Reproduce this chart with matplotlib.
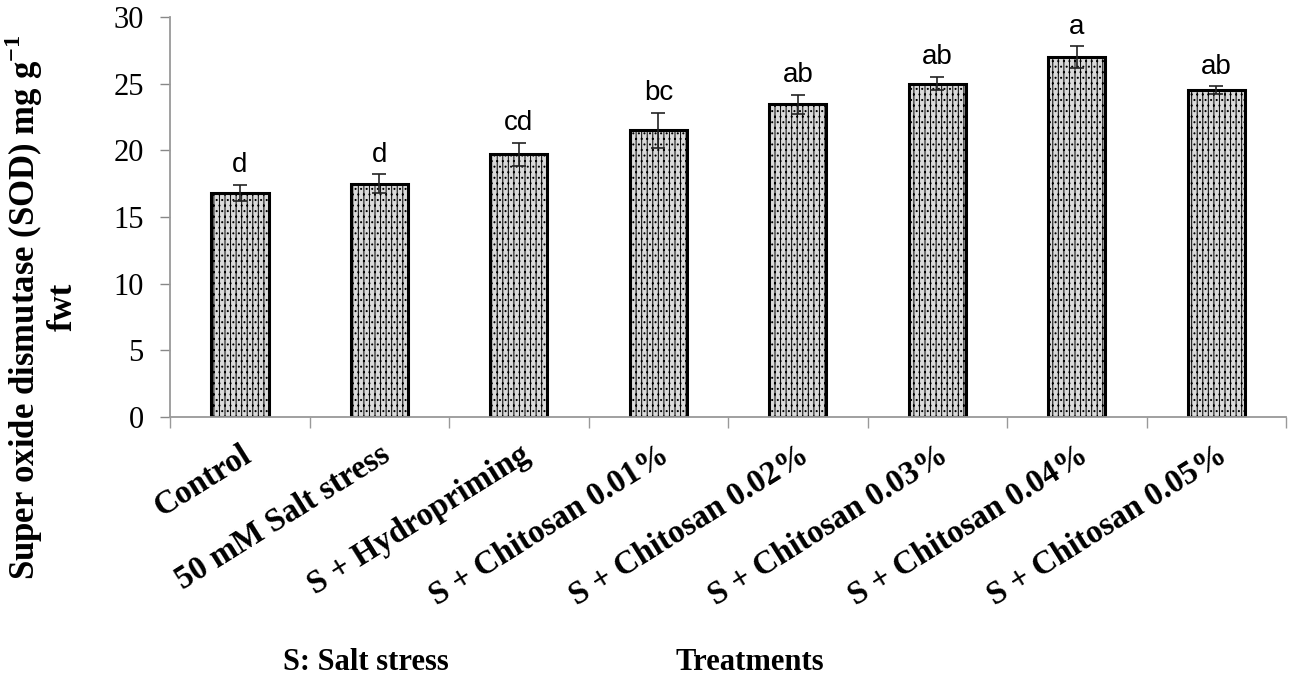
import numpy as np
import matplotlib
matplotlib.use("Agg")
import matplotlib.pyplot as plt

# ==========================================
# Data
# ==========================================
treatments = ["Control", "50 mM Salt stress", "S + Hydropriming",
              "S + Chitosan 0.01%", "S + Chitosan 0.02%", "S + Chitosan 0.03%",
              "S + Chitosan 0.04%", "S + Chitosan 0.05%"]
sod_mean = [16.8, 17.5, 19.7, 21.5, 23.45, 25.0, 27.0, 24.5]
sod_err = [0.6, 0.7, 0.85, 1.3, 0.7, 0.5, 0.8, 0.3]
letters = ["d", "d", "cd", "bc", "ab", "ab", "a", "ab"]

plt.rcParams["font.family"] = ["Liberation Serif", "DejaVu Serif"]
plt.rcParams["mathtext.fontset"] = "custom"
plt.rcParams["mathtext.rm"] = "Liberation Serif"
plt.rcParams["mathtext.bf"] = "Liberation Serif:bold"
plt.rcParams["hatch.color"] = "#6a6a6a"
plt.rcParams["hatch.linewidth"] = 0.7

fig = plt.figure(figsize=(12.99, 6.86), dpi=100)
ax = fig.add_axes([0.131, 0.392, 0.859, 0.583])

x = np.arange(len(treatments))
ax.bar(x, sod_mean, width=0.41, color="#dadada", edgecolor="black",
       linewidth=2.2, hatch="|||...", zorder=2)
ax.errorbar(x, sod_mean, yerr=sod_err, fmt="none", ecolor="#222222",
            elinewidth=1.2, capsize=5, capthick=1.2, zorder=3)

# significance letters
for xi, m, e, lab in zip(x, sod_mean, sod_err, letters):
    ax.annotate(lab, (xi, m + e), xytext=(0, 5), textcoords="offset points",
                ha="center", va="bottom", fontsize=20,
                family=["Liberation Sans", "DejaVu Sans"])

# axes styling
ax.set_xlim(-0.5, len(treatments) - 0.5)
ax.set_ylim(0, 30)
ax.set_yticks(np.arange(0, 31, 5))
ax.tick_params(axis="y", labelsize=22, length=7, width=1, color="#888888",
               pad=12)
for side in ["top", "right"]:
    ax.spines[side].set_visible(False)
for side in ["left", "bottom"]:
    ax.spines[side].set_color("#999999")
    ax.spines[side].set_linewidth(1.3)

ax.set_xticks(x)
ax.set_xticklabels(treatments, rotation=32, ha="right", va="top",
                   rotation_mode="anchor", fontsize=23.5, fontweight="bold")
ax.tick_params(axis="x", which="major", length=0, pad=16)
ax.set_xticks(np.arange(-0.5, len(treatments), 1), minor=True)
ax.tick_params(axis="x", which="minor", length=8, width=1, color="#999999")

fig.text(41 / 1299, 1 - 307 / 686,
         "Super oxide dismutase (SOD) mg g$^{\\mathbf{-1}}$\nfwt",
         rotation=90, fontsize=25, fontweight="bold", ha="center",
         va="center", linespacing=1.1, multialignment="center")

fig.text(283 / 1299, 1 - 663 / 686, "S: Salt stress", fontsize=22,
         fontweight="bold", va="center", ha="left")
fig.text(675 / 1299, 1 - 663 / 686, "Treatments", fontsize=22,
         fontweight="bold", va="center", ha="left")

fig.savefig("out.png", dpi=100)
